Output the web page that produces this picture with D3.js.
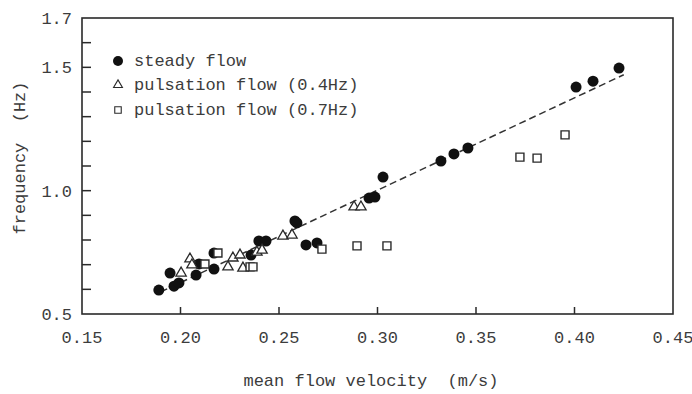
<!DOCTYPE html>
<html lang="en">
<head>
    <meta charset="UTF-8">
    <title>frequency vs mean flow velocity</title>
    <script src="https://d3js.org/d3.v7.min.js"></script>
    <style>
        body { margin: 0; background: #fff; }
        text {
            font-family: "Liberation Mono", "DejaVu Sans Mono", monospace;
            fill: #3c3c3c;
            white-space: pre;
        }
        .tick-label { font-size: 17px; }
        .axis-title { font-size: 17px; }
        .legend text { font-size: 17px; }
    </style>
</head>
<body>
    <svg width="692" height="394"></svg>
    <script>
        // steady flow (filled circles)
        const steadyX = [0.189, 0.1947, 0.1967, 0.1992, 0.2079, 0.2094, 0.217, 0.217, 0.2358, 0.2398, 0.2434,
                         0.2581, 0.2591, 0.2637, 0.2693, 0.2957, 0.2987, 0.3028, 0.3322, 0.3388, 0.3459,
                         0.4008, 0.4094, 0.4226];
        const steadyY = [0.597, 0.666, 0.613, 0.626, 0.658, 0.703, 0.747, 0.682, 0.739, 0.796, 0.796,
                         0.877, 0.869, 0.780, 0.788, 0.970, 0.974, 1.055, 1.120, 1.149, 1.173,
                         1.420, 1.444, 1.497];

        // pulsation flow 0.4Hz (open triangles)
        const puls04X = [0.2003, 0.2048, 0.2058, 0.2241, 0.2266, 0.2302, 0.2317, 0.2388, 0.2414, 0.2520, 0.2566, 0.2881, 0.2916];
        const puls04Y = [0.666, 0.723, 0.699, 0.691, 0.727, 0.739, 0.686, 0.751, 0.759, 0.816, 0.820, 0.934, 0.934];

        // pulsation flow 0.7Hz (open squares)
        const puls07X = [0.2124, 0.2190, 0.2353, 0.2368, 0.2718, 0.2896, 0.3048, 0.3723, 0.3810, 0.3952];
        const puls07Y = [0.703, 0.747, 0.691, 0.691, 0.763, 0.776, 0.776, 1.136, 1.132, 1.226];

        // dashed fit line
        const fitX = [0.19, 0.425];
        const fitY = [0.59, 1.47];

        const xTickLabels = ["0.15", "0.20", "0.25", "0.30", "0.35", "0.40", "0.45"];
        const yTickLabels = ["0.5", "1.0", "1.5", "1.7"];
        const yMinorTicks = [0.6, 0.7, 0.8, 0.9, 1.0, 1.1, 1.2, 1.3, 1.4, 1.5, 1.6];
        const xInnerTicks = [0.20, 0.25, 0.30, 0.35, 0.40];

        const legendLabels = ["steady flow", "pulsation flow (0.4Hz)", "pulsation flow (0.7Hz)"];

        const svg = d3.select("svg");
        const x = d3.scaleLinear().domain([0.15, 0.45]).range([82, 673]);
        const y = d3.scaleLinear().domain([0.5, 1.7]).range([314, 18]);

        const ink = "#2a2a2a";

        // frame
        svg.append("rect")
            .attr("x", x(0.15)).attr("y", y(1.7))
            .attr("width", x(0.45) - x(0.15)).attr("height", y(0.5) - y(1.7))
            .attr("fill", "none").attr("stroke", ink).attr("stroke-width", 1.6);

        // inward ticks on left axis
        svg.append("g").selectAll("line")
            .data(yMinorTicks)
            .join("line")
            .attr("x1", x(0.15)).attr("x2", x(0.15) + 9)
            .attr("y1", d => y(d)).attr("y2", d => y(d))
            .attr("stroke", ink).attr("stroke-width", 1.5);

        // inward ticks on bottom axis
        svg.append("g").selectAll("line")
            .data(xInnerTicks)
            .join("line")
            .attr("x1", d => x(d)).attr("x2", d => x(d))
            .attr("y1", y(0.5)).attr("y2", y(0.5) - 7)
            .attr("stroke", ink).attr("stroke-width", 1.5);

        // tick labels
        svg.append("g").selectAll("text")
            .data(yTickLabels)
            .join("text")
            .attr("class", "tick-label")
            .attr("x", x(0.15) - 10)
            .attr("y", d => y(+d))
            .attr("dy", "0.35em")
            .attr("text-anchor", "end")
            .text(d => d);

        svg.append("g").selectAll("text")
            .data(xTickLabels)
            .join("text")
            .attr("class", "tick-label")
            .attr("x", d => x(+d))
            .attr("y", 343)
            .attr("text-anchor", "middle")
            .text(d => d);

        // axis titles
        svg.append("text")
            .attr("class", "axis-title")
            .attr("x", 371).attr("y", 386)
            .attr("text-anchor", "middle")
            .text("mean flow velocity  (m/s)");

        svg.append("text")
            .attr("class", "axis-title")
            .attr("transform", "translate(25,158) rotate(-90)")
            .attr("text-anchor", "middle")
            .text("frequency  (Hz)");

        // fit line
        const fitData = fitX.map((v, i) => [v, fitY[i]]);
        svg.append("path")
            .datum(fitData)
            .attr("d", d3.line().x(d => x(d[0])).y(d => y(d[1])))
            .attr("fill", "none")
            .attr("stroke", "#333")
            .attr("stroke-width", 1.5)
            .attr("stroke-dasharray", "7,4");

        const zip = (xs, ys) => xs.map((v, i) => [v, ys[i]]);

        // steady flow
        svg.append("g").selectAll("circle")
            .data(zip(steadyX, steadyY))
            .join("circle")
            .attr("cx", d => x(d[0])).attr("cy", d => y(d[1]))
            .attr("r", 5.5)
            .attr("fill", "#111");

        const tri = d3.symbol().type(d3.symbolTriangle).size(46);
        const sq = d3.symbol().type(d3.symbolSquare).size(64);

        svg.append("g").selectAll("path")
            .data(zip(puls04X, puls04Y))
            .join("path")
            .attr("d", tri)
            .attr("transform", d => `translate(${x(d[0])},${y(d[1])})`)
            .attr("fill", "#fff").attr("stroke", ink).attr("stroke-width", 1.3);

        svg.append("g").selectAll("path")
            .data(zip(puls07X, puls07Y))
            .join("path")
            .attr("d", sq)
            .attr("transform", d => `translate(${x(d[0])},${y(d[1])})`)
            .attr("fill", "#fff").attr("stroke", ink).attr("stroke-width", 1.4);

        // legend
        const legend = svg.append("g").attr("class", "legend");
        const rowY = [61, 85, 110];
        legend.append("circle").attr("cx", 118).attr("cy", rowY[0]).attr("r", 5).attr("fill", "#111");
        legend.append("path").attr("d", d3.symbol().type(d3.symbolTriangle).size(34))
            .attr("transform", `translate(118,${rowY[1]})`)
            .attr("fill", "#fff").attr("stroke", ink).attr("stroke-width", 1.1);
        legend.append("path").attr("d", d3.symbol().type(d3.symbolSquare).size(42))
            .attr("transform", `translate(118,${rowY[2]})`)
            .attr("fill", "#fff").attr("stroke", ink).attr("stroke-width", 1.1);
        legend.selectAll("text")
            .data(legendLabels)
            .join("text")
            .attr("x", 134)
            .attr("y", (d, i) => rowY[i])
            .attr("dy", "0.32em")
            .text(d => d);
    </script>
</body>
</html>
